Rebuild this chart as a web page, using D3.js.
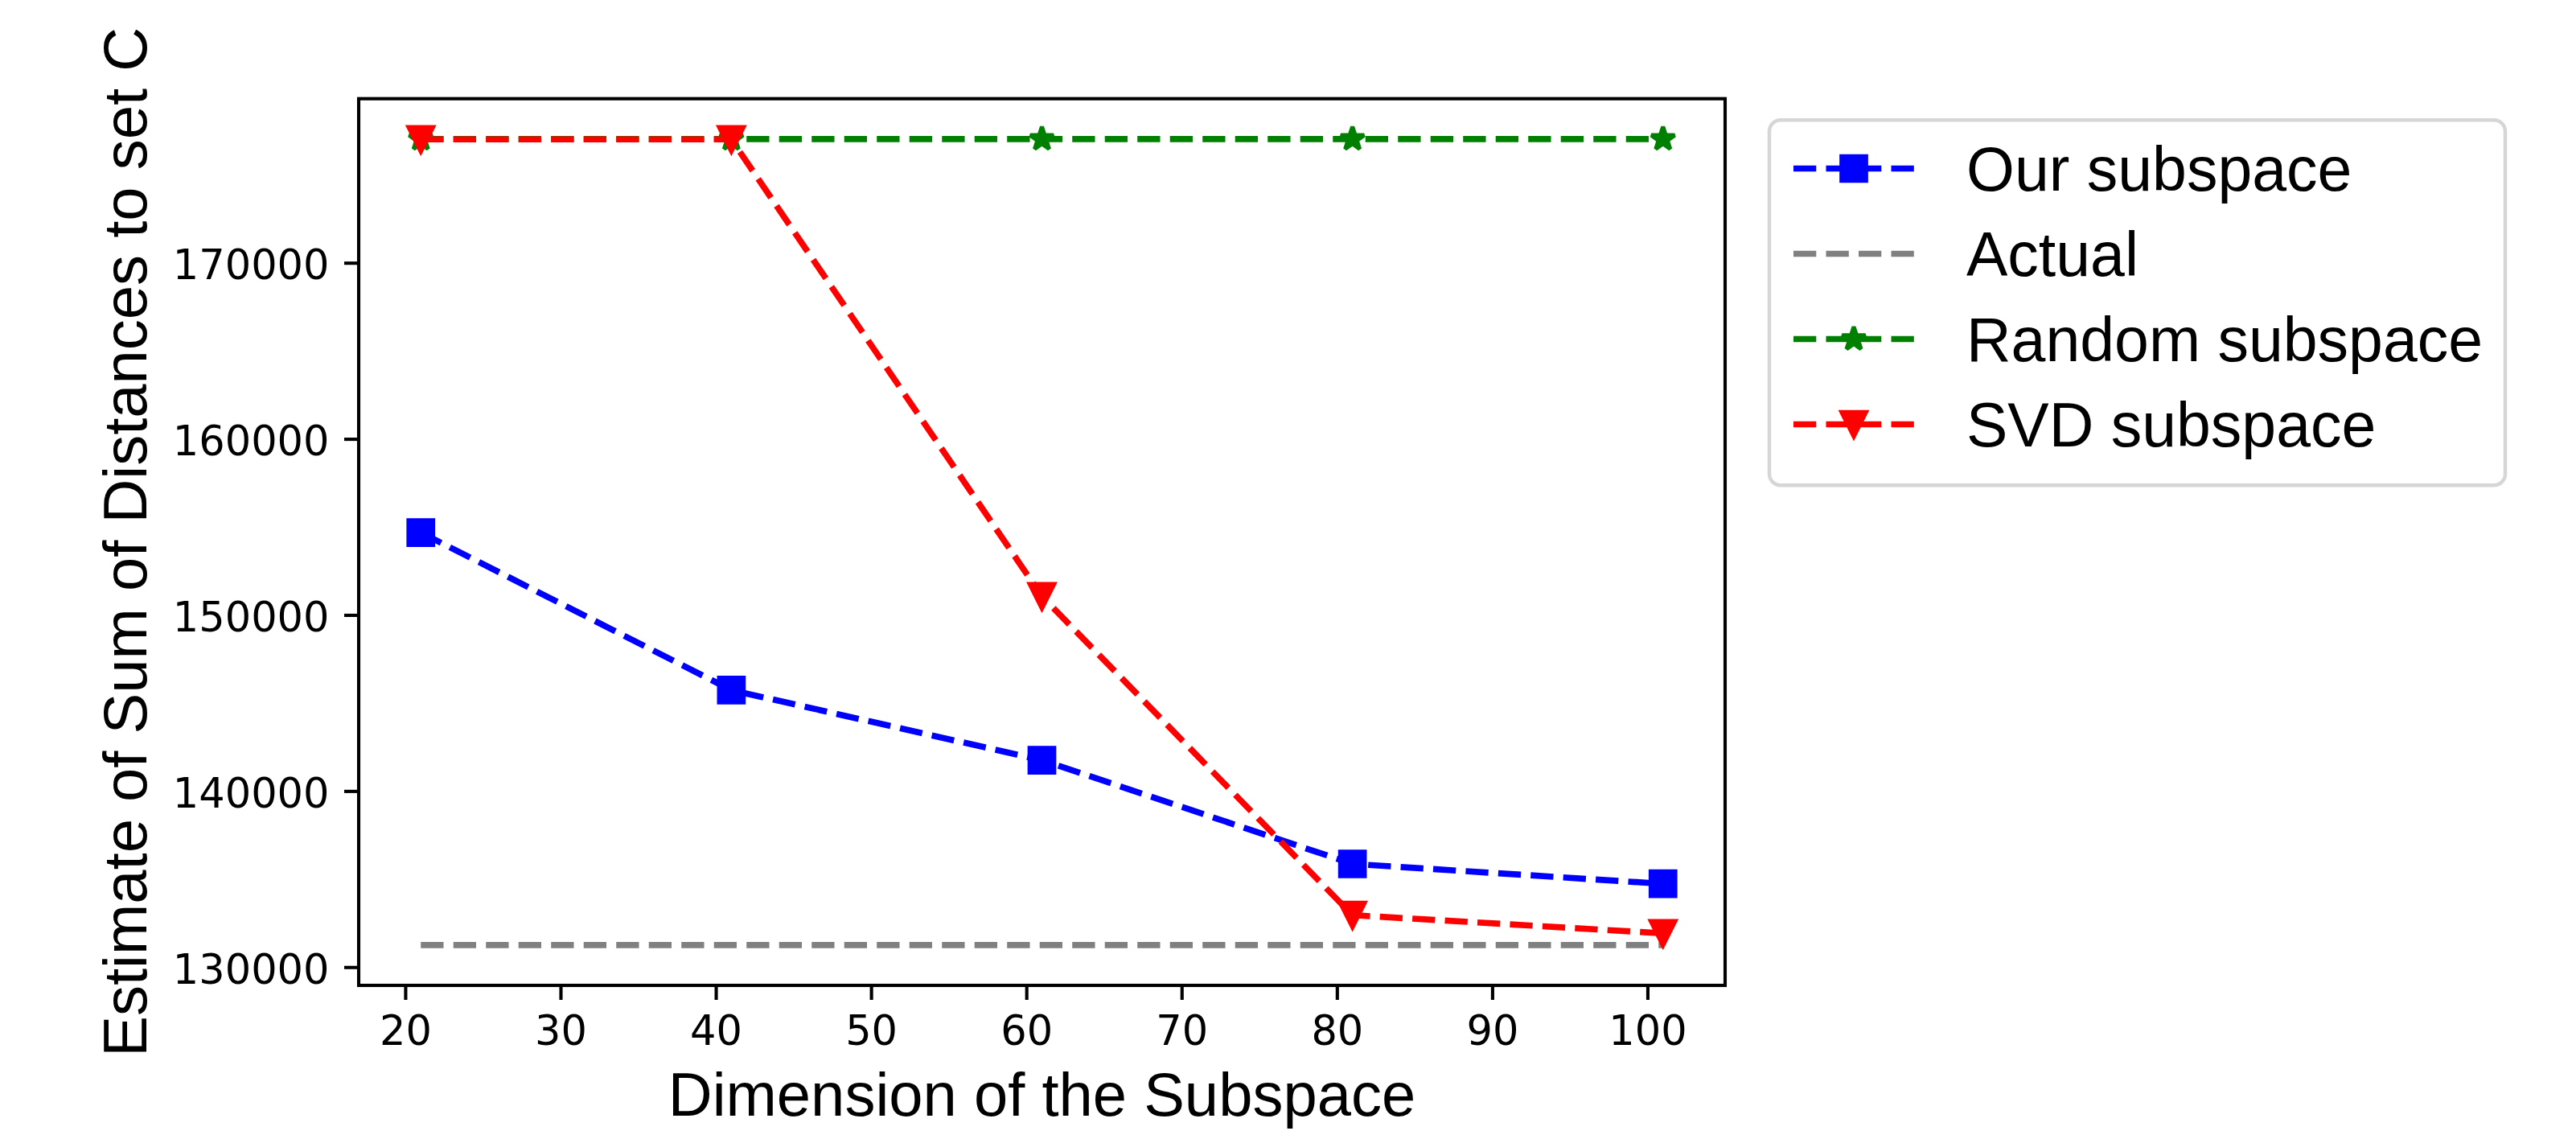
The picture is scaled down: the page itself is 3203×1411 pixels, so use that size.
<!DOCTYPE html>
<html>
<head>
<meta charset="utf-8">
<script src="https://cdn.jsdelivr.net/npm/d3@7"></script>
<style>
  html, body { margin: 0; padding: 0; background: #ffffff; }
  svg { display: block; }
</style>
</head>
<body>
<script>
// ---------------- data ----------------
const dims = [21, 41, 61, 81, 101];
const ourSubspace = [154680, 145730, 141750, 135860, 134730];
const actual = [131250, 131250, 131250, 131250, 131250];
const randomSubspace = [177030, 177030, 177030, 177030, 177030];
const svdSubspace = [177010, 177010, 151060, 132950, 131920];

const xTicks = [20, 30, 40, 50, 60, 70, 80, 90, 100];
const yTicks = [130000, 140000, 150000, 160000, 170000];

const seriesNames = ["Our subspace", "Actual", "Random subspace", "SVD subspace"];
const seriesColors = ["#0000ff", "#808080", "#008000", "#ff0000"];
const seriesMarkers = ["square", "none", "star", "triangleDown"];

const xLabel = "Dimension of the Subspace";
const yLabel = "Estimate of Sum of Distances to set C";

// ---------------- layout ----------------
const W = 3203, H = 1411;
const plot = { left: 446, right: 2145, top: 122.7, bottom: 1225 };
const LW = 7.65;            // line width
const DASH = "28.3,12.2";
const MS = 30.6;            // marker size
const MEW = 5.1;            // marker edge width
const tickFont = "'DejaVu Sans', sans-serif";
const labelFont = "'Liberation Sans', Arial, Helvetica, sans-serif";

const svg = d3.select("body").append("svg")
  .attr("width", W).attr("height", H)
  .attr("viewBox", `0 0 ${W} ${H}`);
svg.append("rect").attr("width", W).attr("height", H).attr("fill", "#fff");

// scales with matplotlib-like 5% margins
const xExt = d3.extent(dims);
const xPad = (xExt[1] - xExt[0]) * 0.05;
const x = d3.scaleLinear().domain([xExt[0] - xPad, xExt[1] + xPad]).range([plot.left, plot.right]);

const allY = [].concat(ourSubspace, actual, randomSubspace, svdSubspace);
const yExt = d3.extent(allY);
const yPad = (yExt[1] - yExt[0]) * 0.05;
const y = d3.scaleLinear().domain([yExt[0] - yPad, yExt[1] + yPad]).range([plot.bottom, plot.top]);

// ---------------- markers ----------------
const squareType = { draw(ctx, size) { const s = Math.sqrt(size) / 2; ctx.rect(-s, -s, 2 * s, 2 * s); } };
const triDownType = { draw(ctx, size) {
  const s = Math.sqrt(size) / 2;
  ctx.moveTo(0, s); ctx.lineTo(-s, -s); ctx.lineTo(s, -s); ctx.closePath();
} };
const starType = { draw(ctx, size) {
  const R = Math.sqrt(size) / 2, r = R * 0.381966;
  for (let i = 0; i < 10; i++) {
    const a = -Math.PI / 2 + i * Math.PI / 5;
    const rr = i % 2 === 0 ? R : r;
    const px = rr * Math.cos(a), py = rr * Math.sin(a);
    if (i === 0) ctx.moveTo(px, py); else ctx.lineTo(px, py);
  }
  ctx.closePath();
} };
const markerTypes = { square: squareType, triangleDown: triDownType, star: starType };
const joins = { square: "miter", triangleDown: "miter", star: "bevel" };

function drawMarker(g, type, cx, cy, color) {
  if (type === "none") return;
  g.append("path")
    .attr("d", d3.symbol().type(markerTypes[type]).size(MS * MS)())
    .attr("transform", `translate(${cx},${cy})`)
    .attr("fill", color)
    .attr("stroke", color)
    .attr("stroke-width", MEW)
    .attr("stroke-linejoin", joins[type])
    .attr("stroke-miterlimit", 10);
}

// ---------------- axes ----------------
const xAxis = d3.axisBottom(x).tickValues(xTicks).tickFormat(d3.format("d"))
  .tickSize(18).tickPadding(20).tickSizeOuter(0);
const yAxis = d3.axisLeft(y).tickValues(yTicks).tickFormat(d3.format("d"))
  .tickSize(18).tickPadding(18.5).tickSizeOuter(0);

const gx = svg.append("g").attr("transform", `translate(0,${plot.bottom})`).call(xAxis);
const gy = svg.append("g").attr("transform", `translate(${plot.left},0)`).call(yAxis);
[gx, gy].forEach(g => {
  g.select(".domain").remove();
  g.selectAll(".tick line").attr("stroke", "#000").attr("stroke-width", 4.1);
  g.selectAll(".tick text").attr("fill", "#000")
    .style("font-family", tickFont).style("font-size", "51px");
});
gy.selectAll(".tick text").attr("dy", "0.39em");

// ---------------- series ----------------
const seriesData = [ourSubspace, actual, randomSubspace, svdSubspace];
const lineGen = d3.line().x(d => x(d[0])).y(d => y(d[1]));
const plotG = svg.append("g");
seriesData.forEach((vals, i) => {
  const pts = dims.map((d, j) => [d, vals[j]]);
  plotG.append("path")
    .attr("d", lineGen(pts))
    .attr("fill", "none")
    .attr("stroke", seriesColors[i])
    .attr("stroke-width", LW)
    .attr("stroke-dasharray", DASH)
    .attr("stroke-linecap", "butt")
    .attr("stroke-linejoin", "round");
  pts.forEach(p => drawMarker(plotG, seriesMarkers[i], x(p[0]), y(p[1]), seriesColors[i]));
});

// spines
svg.append("rect")
  .attr("x", plot.left).attr("y", plot.top)
  .attr("width", plot.right - plot.left).attr("height", plot.bottom - plot.top)
  .attr("fill", "none").attr("stroke", "#000").attr("stroke-width", 4.1)
  .attr("stroke-linejoin", "miter");

// axis labels
svg.append("text")
  .attr("x", (plot.left + plot.right) / 2).attr("y", 1387)
  .attr("text-anchor", "middle")
  .style("font-family", labelFont).style("font-size", "76px")
  .text(xLabel);
svg.append("text")
  .attr("transform", `translate(182,${(plot.top + plot.bottom) / 2}) rotate(-90)`)
  .attr("text-anchor", "middle")
  .style("font-family", labelFont).style("font-size", "76px")
  .text(yLabel);

// ---------------- legend ----------------
const leg = { x: 2200, y: 149.3, w: 915, h: 454 };
const legG = svg.append("g");
legG.append("rect")
  .attr("x", leg.x).attr("y", leg.y).attr("width", leg.w).attr("height", leg.h)
  .attr("rx", 14).attr("ry", 14)
  .attr("fill", "#fff").attr("stroke", "#d6d6d6").attr("stroke-width", 4.5);
const rowBase = [237, 343, 449, 555];
seriesNames.forEach((name, i) => {
  const cy = rowBase[i] - 27.5;
  legG.append("line")
    .attr("x1", 2230).attr("x2", 2380).attr("y1", cy).attr("y2", cy)
    .attr("stroke", seriesColors[i]).attr("stroke-width", LW)
    .attr("stroke-dasharray", DASH);
  drawMarker(legG, seriesMarkers[i], 2305, cy, seriesColors[i]);
  legG.append("text")
    .attr("x", 2445).attr("y", rowBase[i])
    .style("font-family", labelFont).style("font-size", "77px")
    .attr("fill", "#000")
    .text(name);
});
</script>
</body>
</html>
